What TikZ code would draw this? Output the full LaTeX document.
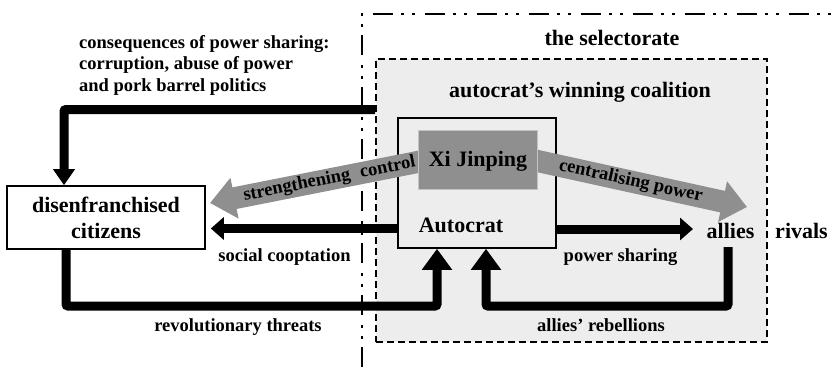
\documentclass[tikz,border=0pt]{standalone}
\usepackage{fontspec}
\setmainfont{Liberation Serif}
\usetikzlibrary{arrows.meta,calc}
\definecolor{bggray}{HTML}{EDEDED}
\definecolor{bandgray}{HTML}{8F8F8F}
\definecolor{xiborder}{HTML}{C4C4C4}
\tikzset{
  big/.style={font=\bfseries\fontsize{22}{26}\selectfont},
  med/.style={font=\bfseries\fontsize{18.5}{21.5}\selectfont},
  lbl/.style={inner sep=0pt},
  thickarrow/.style={line width=9pt, rounded corners=2pt},
  hhead/.style={-{Triangle[width=22pt,length=13pt]}},
  uphead/.style={-{Triangle[width=29pt,length=21pt]}},
  dnhead/.style={-{Triangle[width=21pt,length=16pt]}},
  bandarrow/.style={draw=bandgray, line width=22pt, -{Triangle[width=40pt,length=25pt]}},
  dashdotline/.style={line width=2.6pt, dash pattern=on 20pt off 8pt on 3pt off 8pt on 3pt off 10pt},
  coalbox/.style={draw, line width=2pt, dash pattern=on 7pt off 4pt, fill=bggray},
  autobox/.style={draw, line width=1.6pt, fill=bggray},
  xibox/.style={draw=xiborder, line width=1pt, fill=bandgray},
  citbox/.style={draw, line width=1.6pt, fill=white, align=center}
}
\begin{document}
\begin{tikzpicture}[x=1pt,y=-1pt]
\useasboundingbox (0,0) rectangle (840,367);
% selectorate border
\draw[dashdotline] (362,367) -- (362,14) -- (841,14);
% coalition box
\node[coalbox, minimum width=391pt, minimum height=283pt, inner sep=0pt] (coal) at (571.5,200.5) {};
% autocrat box
\node[autobox, minimum width=158pt, minimum height=130pt, inner sep=0pt] (autob) at (477,183) {};
% citizens box
\node[citbox, big, minimum width=198pt, minimum height=63pt, inner sep=0pt] (citizens) at (106,217.5) {disenfranchised\\citizens};
% Xi box geometry (for anchors)
\coordinate (sctip) at (210,203);
\coordinate (cptip) at (747,207);
\node[xibox, minimum width=119pt, minimum height=59pt, inner sep=0pt] (xi) at (477.5,159.5) {};
% gray band arrows
\draw[bandarrow] ($(xi.west |- 0,162)!-6pt!(sctip)$) -- node[pos=0.44, sloped, med, text=black, inner sep=0pt] {strengthening\hspace{0.55em}control} (sctip);
\draw[bandarrow] ($(xi.east |- 0,161)!-6pt!(cptip)$) -- node[pos=0.46, sloped, med, text=black, inner sep=0pt] {centralising power} (cptip);
% Xi box on top
\node[xibox, big, minimum width=119pt, minimum height=59pt, inner sep=0pt, text=black] (xi2) at (477.5,159.5) {};
\node[big, lbl, anchor=base] (xilabel) at (478,166) {Xi Jinping};
% labels
\node[big, lbl, anchor=base] (selab) at (612,45) {the selectorate};
\node[big, lbl, anchor=base] (coallab) at (580,97) {autocrat’s winning coalition};
\node[big, lbl, anchor=base] (autolab) at (461,232) {Autocrat};
\node[big, lbl, anchor=base] (allies) at (730.5,238) {allies};
\node[big, lbl, anchor=base] (rivals) at (801.5,238) {rivals};
\node[med, lbl, anchor=north west, align=left] (conslab) at (79,35) {consequences of power sharing:\\corruption, abuse of power\\and pork barrel politics};
\node[med, lbl, anchor=base] (cooplab) at (284.5,261) {social cooptation};
\node[med, lbl, anchor=base] (revlab) at (238,331) {revolutionary threats};
\node[med, lbl, anchor=base] (pslab) at (620.5,261) {power sharing};
\node[med, lbl, anchor=base] (rebellab) at (601,331) {allies’ rebellions};
% free ends near allies
\coordinate (alliesin) at (693,229);
\coordinate (alliesfoot) at (728,247);
% black arrows
\draw[thickarrow, dnhead] (coal.west |- 0,109.5) -- (64,109.5) -- (64,0 |- citizens.north);
\draw[thickarrow, hhead] (autob.west |- 0,228.5) -- ([xshift=5pt]citizens.east |- 0,228.5);
\draw[thickarrow, uphead] (66,0 |- citizens.south) -- (66,306) -- (437,306) -- (437,0 |- autob.south);
\draw[thickarrow, hhead] (autob.east |- 0,229) -- (alliesin);
\draw[thickarrow, uphead] (alliesfoot) -- (728,306) -- (486,306) -- (486,0 |- autob.south);
\end{tikzpicture}
\end{document}
